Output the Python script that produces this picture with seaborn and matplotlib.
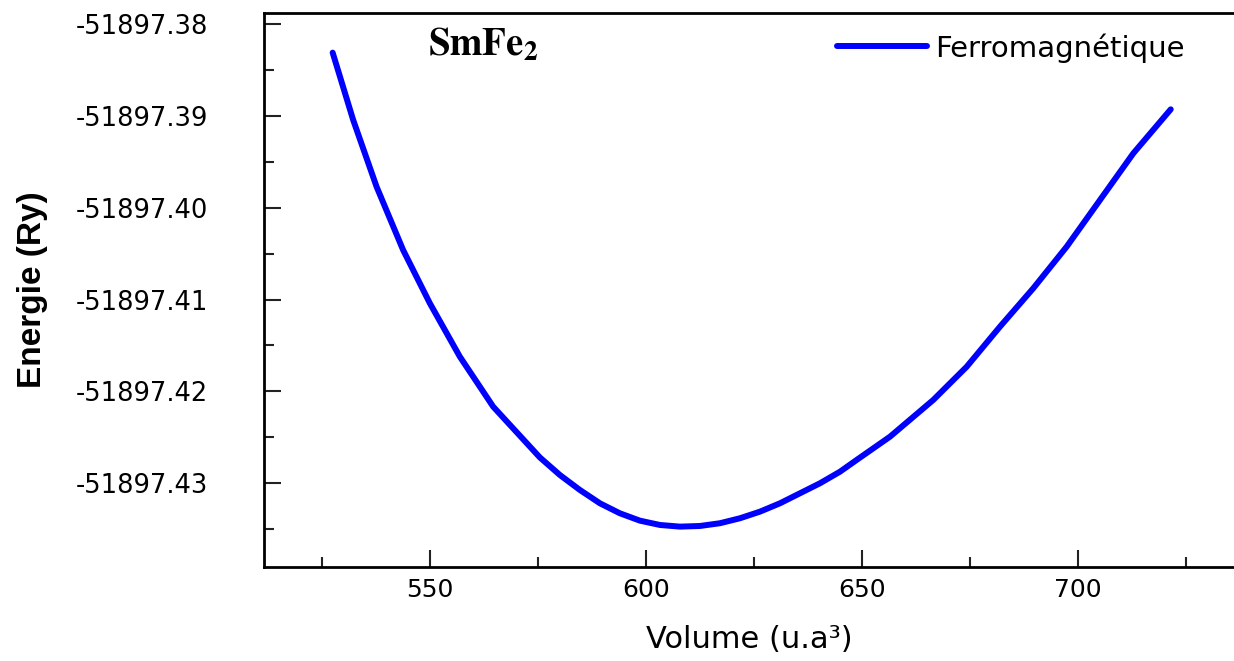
import numpy as np
import pandas as pd
import matplotlib
matplotlib.use('Agg')
import matplotlib.pyplot as plt
from matplotlib.ticker import MultipleLocator, FormatStrFormatter
import seaborn as sns

# values
volume = [527.5, 532.25, 537.66, 543.8, 550.0, 556.94, 564.65, 575.46,
          580.09, 584.72, 589.35, 593.98, 598.61, 603.24, 607.87, 612.5, 617.13,
          621.76, 626.39, 631.02, 635.65, 640.28, 644.91, 648.77, 656.48, 666.5,
          674.24, 681.94, 689.65, 697.38, 705.09, 712.8, 721.46]
energy = [-51897.38312, -51897.39045, -51897.39771, -51897.40460, -51897.41041,
          -51897.41622, -51897.42166, -51897.42719, -51897.42910,
          -51897.43073, -51897.43218, -51897.43327, -51897.43407, -51897.43454,
          -51897.43472, -51897.43465, -51897.43435, -51897.43381, -51897.43309,
          -51897.43218, -51897.43109, -51897.43000, -51897.42874, -51897.42746,
          -51897.42493, -51897.42093, -51897.41731, -51897.41295, -51897.40877,
          -51897.40424, -51897.39916, -51897.39408, -51897.38929]
series_name = 'Ferromagnétique'
compound = r'$\mathbf{SmFe_2}$'

df = pd.DataFrame({'Volume': volume, 'Energie': energy})

sns.set_style('ticks')
plt.rcParams['font.family'] = ['DejaVu Sans']
plt.rcParams['mathtext.fontset'] = 'stix'
plt.rcParams['text.color'] = 'black'
plt.rcParams['axes.labelcolor'] = 'black'
plt.rcParams['xtick.color'] = 'black'
plt.rcParams['ytick.color'] = 'black'

fig = plt.figure(figsize=(12.34, 6.61), dpi=100)
ax = fig.add_axes([0.2139, 0.1427, 0.7861, 0.8381])

sns.lineplot(data=df, x='Volume', y='Energie', color='#0000ff', linewidth=4.3,
             label=series_name, ax=ax, sort=False)
ax.lines[0].set_solid_joinstyle('round')

ax.set_xlim(511.6, 736.1)
ax.set_ylim(-51897.43908, -51897.37877)

ax.xaxis.set_major_locator(MultipleLocator(50))
ax.xaxis.set_minor_locator(MultipleLocator(25))
ax.yaxis.set_major_locator(MultipleLocator(0.01))
ax.yaxis.set_minor_locator(MultipleLocator(0.005))
ax.yaxis.set_major_formatter(FormatStrFormatter('%.2f'))

ax.tick_params(axis='both', which='major', direction='in', length=12, width=1.5, color='#222222')
ax.tick_params(axis='both', which='minor', direction='in', length=7, width=1.5, color='#222222')
ax.tick_params(axis='y', which='major', labelsize=18.5, pad=40, labelcolor='black')
ax.tick_params(axis='x', which='major', labelsize=18, pad=8, labelcolor='black')

for s in ['left', 'bottom', 'top']:
    ax.spines[s].set_linewidth(2)
    ax.spines[s].set_color('black')
ax.spines['right'].set_visible(False)

ax.set_xlabel('Volume (u.a³)', fontsize=22, labelpad=17)
ax.set_ylabel('Energie (Ry)', fontsize=24, fontweight='bold', family='Liberation Sans', labelpad=20)

ax.text(0.169, 0.9236, compound, transform=ax.transAxes, fontsize=28, va='baseline', ha='left')

leg = ax.legend(loc='upper left', bbox_to_anchor=(0.5907, 0.963), frameon=False, fontsize=21,
                borderpad=0, borderaxespad=0, handlelength=3.1, handletextpad=0.25)
for t in leg.get_texts():
    t.set_color('black')

plt.savefig('out.png', dpi=100)
